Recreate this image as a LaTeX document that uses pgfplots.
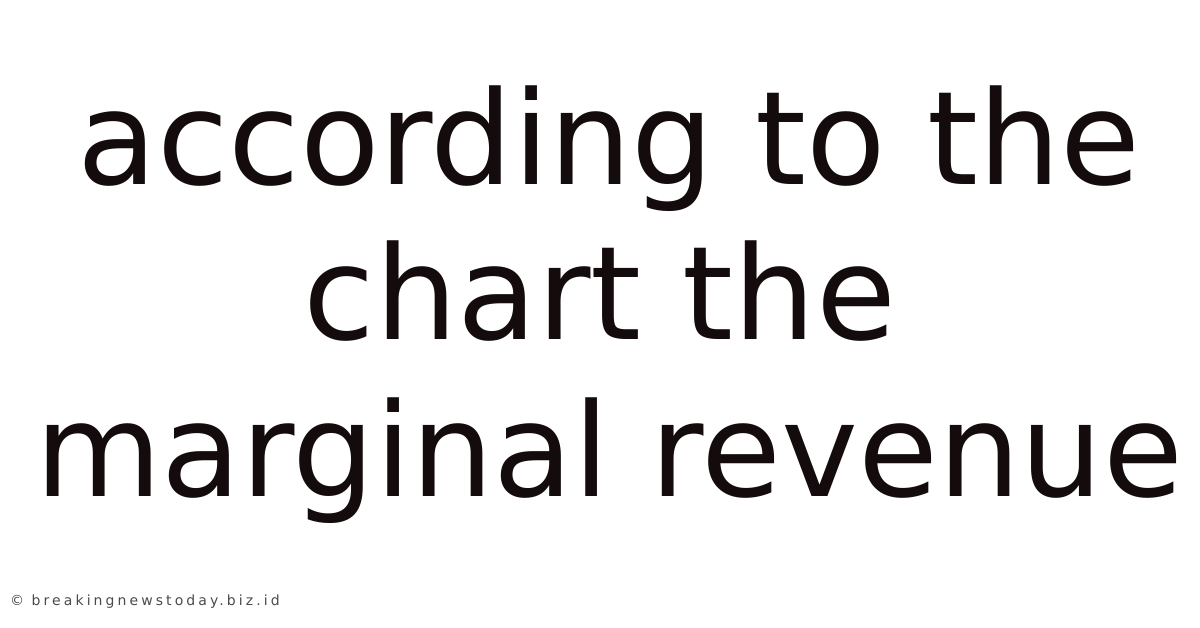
\documentclass[border=0pt]{standalone}
\usepackage{pgfplots}
\pgfplotsset{compat=1.18}
\usepackage{fontspec}
\setmainfont{DejaVu Sans}
\definecolor{txt}{HTML}{140C0C}
\definecolor{foot}{HTML}{4A4A4A}
\begin{document}
\begin{tikzpicture}
\begin{axis}[hide axis, scale only axis, width=1200pt, height=628pt,
  xmin=0, xmax=1200, ymin=0, ymax=628, clip=false]
\path (axis cs:0,0) rectangle (axis cs:1200,628);
\node[anchor=base, inner sep=0pt, text=txt, font=\fontsize{130}{156}\selectfont] at (axis cs:609,443) {according to the};
\node[anchor=base, inner sep=0pt, text=txt, font=\fontsize{130}{156}\selectfont] at (axis cs:600,288) {chart the};
\node[anchor=base, inner sep=0pt, text=txt, font=\fontsize{130}{156}\selectfont] at (axis cs:609,131) {marginal revenue};
\node[anchor=base west, inner sep=0pt, text=foot, font=\fontsize{14}{16}\selectfont\addfontfeature{LetterSpace=22}] at (axis cs:10,22.5) {© breakingnewstoday.biz.id};
\end{axis}
\end{tikzpicture}
\end{document}
